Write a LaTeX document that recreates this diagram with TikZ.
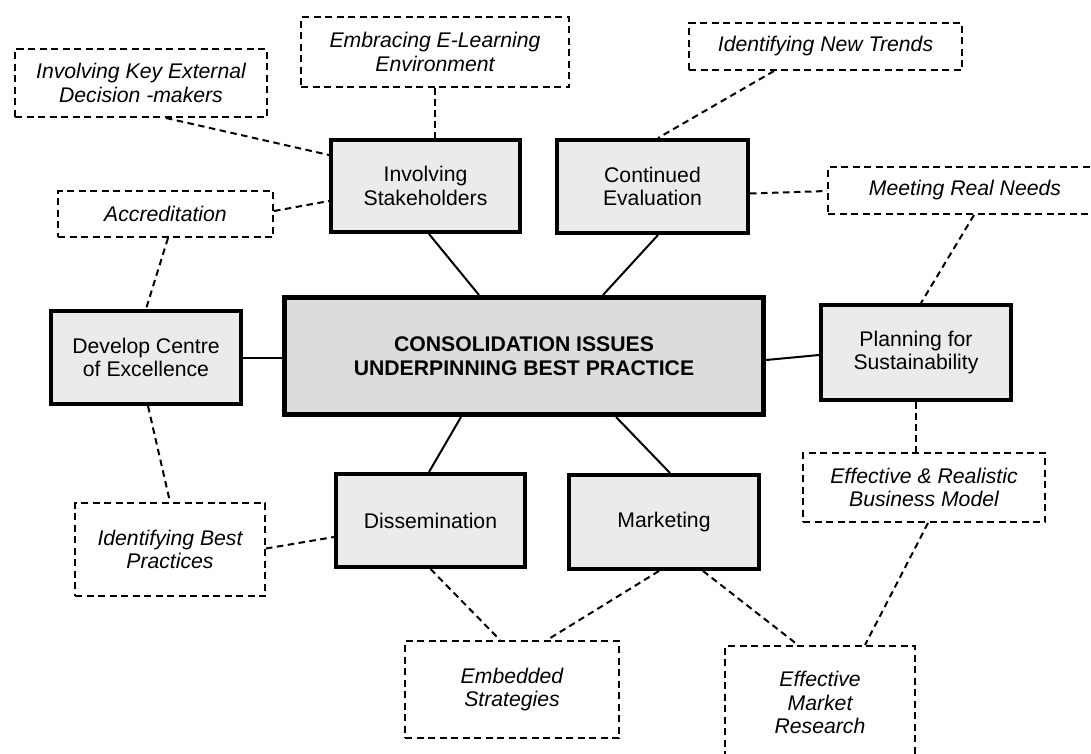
\documentclass[tikz,border=0pt]{standalone}
\usepackage{fontspec}
\setmainfont{Liberation Sans}
\definecolor{issuegray}{HTML}{EBEBEB}
\definecolor{coregray}{HTML}{DCDCDC}
\begin{document}
\begin{tikzpicture}[x=1pt,y=-1pt,
    issue/.style={rectangle,draw,line width=4pt,fill=issuegray,align=center,inner sep=0pt,font=\fontsize{21.2}{23.5}\selectfont},
    detail/.style={rectangle,draw,line width=2pt,dash pattern=on 7pt off 4.5pt,align=center,inner sep=0pt,font=\fontsize{21.2}{23.5}\selectfont\itshape},
    solidlink/.style={line width=2pt},
    dashlink/.style={line width=2pt,dash pattern=on 6.5pt off 4.5pt}]
    \useasboundingbox (0,0) rectangle (1091,753);
    \fill[white] (0,0) rectangle (1091,753);

    \node(core) [rectangle,draw,line width=5pt,fill=coregray,align=center,inner sep=0pt,minimum width=479pt,minimum height=117pt,font=\fontsize{21.2}{23.5}\selectfont\bfseries] at (524,356) {CONSOLIDATION ISSUES\\UNDERPINNING BEST PRACTICE};

    \node(stake) [issue,minimum width=189pt,minimum height=92pt] at (425.5,186) {Involving\\Stakeholders};
    \node(eval) [issue,minimum width=191pt,minimum height=93pt] at (652.5,186.5) {Continued\\Evaluation};
    \node(excel) [issue,minimum width=190pt,minimum height=93pt] at (146,357.5) {Develop Centre\\of Excellence};
    \node(plan) [issue,minimum width=190pt,minimum height=95pt] at (916,352.5) {Planning for\\Sustainability};
    \node(dissem) [issue,minimum width=189pt,minimum height=93pt] at (430.5,520.5) {Dissemination};
    \node(market) [issue,minimum width=190pt,minimum height=94pt] at (664,522) {Marketing};

    \node(keyext) [detail,minimum width=252pt,minimum height=68pt] at (141,83) {Involving Key External\\Decision -makers};
    \node(elearn) [detail,minimum width=268pt,minimum height=70pt] at (435,52) {Embracing E-Learning\\Environment};
    \node(trends) [detail,minimum width=273pt,minimum height=47pt] at (825.5,46.5) {Identifying New Trends};
    \node(accred) [detail,minimum width=215pt,minimum height=46pt] at (165.5,214) {Accreditation};
    \node(needs) [detail,minimum width=274pt,minimum height=47pt] at (965,190.5) {Meeting Real Needs};
    \node(bizmodel) [detail,minimum width=242pt,minimum height=69pt] at (924,487.5) {Effective \& Realistic\\Business Model};
    \node(bestprac) [detail,minimum width=190pt,minimum height=93pt] at (170,549.5) {Identifying Best\\Practices};
    \node(embed) [detail,minimum width=214pt,minimum height=97pt] at (512,689.5) {Embedded\\Strategies};
    \node(research) [detail,minimum width=190pt,minimum height=113pt] at (820,702.5) {Effective\\Market\\Research};

    \draw[solidlink] ([xshift=3.5pt]stake.south) -- ([xshift=-45pt]core.north);
    \draw[solidlink] ([xshift=5.5pt]eval.south) -- ([xshift=79pt]core.north);
    \draw[solidlink] (excel.east) -- (core.west |- excel.east);
    \draw[solidlink] ([yshift=-4pt]core.east) -- ([yshift=-2.5pt]plan.west);
    \draw[solidlink] ([xshift=-63pt]core.south) -- ([xshift=-1.5pt]dissem.north);
    \draw[solidlink] ([xshift=92pt]core.south) -- ([xshift=6pt]market.north);

    \draw[dashlink] ([xshift=25pt]keyext.south) -- ([yshift=31pt]stake.west);
    \draw[dashlink] (elearn.south) -- (elearn.south |- stake.north);
    \draw[dashlink] ([yshift=3pt]accred.east) -- ([yshift=-15pt]stake.west);
    \draw[dashlink] ([xshift=2.5pt]accred.south) -- (excel.north);
    \draw[dashlink] ([xshift=-51.5pt]trends.south) -- ([xshift=5.5pt]eval.north);
    \draw[dashlink] ([yshift=-7pt]eval.east) -- ([yshift=-0.5pt]needs.west);
    \draw[dashlink] ([xshift=9pt]needs.south) -- ([xshift=5pt]plan.north);
    \draw[dashlink] (plan.south) -- (plan.south |- bizmodel.north);
    \draw[dashlink] ([xshift=2pt]excel.south) -- (bestprac.north);
    \draw[dashlink] ([yshift=1pt]bestprac.east) -- ([yshift=-16.5pt]dissem.west);
    \draw[dashlink] (dissem.south) -- ([xshift=-12pt]embed.north);
    \draw[dashlink] ([xshift=-5pt]market.south) -- ([xshift=35pt]embed.north);
    \draw[dashlink] ([xshift=39pt]market.south) -- ([xshift=-22pt]research.north);
    \draw[dashlink] ([xshift=4pt]bizmodel.south) -- ([xshift=45pt]research.north);
\end{tikzpicture}
\end{document}
